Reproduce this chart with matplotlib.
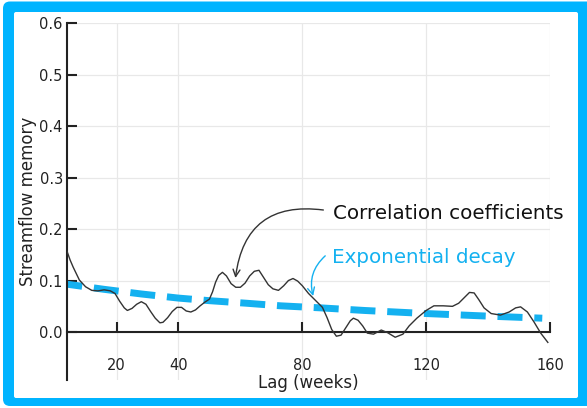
import matplotlib
matplotlib.use("Agg")
import matplotlib.pyplot as plt
from matplotlib.patches import FancyBboxPatch, Rectangle
from matplotlib.transforms import IdentityTransform

# Lagged autocorrelation of weekly streamflow
lag_weeks = [4, 5, 6, 8, 10, 12, 14, 16, 18, 19.5, 21, 22.5, 23.5, 25, 26.5, 28,
             29.5, 31, 32.5, 34, 35, 36.5, 38, 39.5, 41, 42.5, 44, 45.5, 47, 48.5,
             50, 51, 52, 53, 54.2, 55.5, 57, 58.5, 60, 61.5, 63, 64.5, 66, 67.5,
             69, 70.5, 72.3, 74, 75.5, 77, 78.5, 80, 82, 84.5, 86.5, 88, 89.5, 91,
             92.5, 94, 95.5, 96.5, 98, 99.5, 101, 103, 105.5, 107.5, 110, 112.5,
             114.5, 117, 120, 122.5, 125.5, 128.5, 130.5, 132.5, 134, 135.5, 137,
             138.7, 141, 144, 146.8, 148.9, 150.5, 152.7, 154.8, 157, 159.3]
correlation = [0.157, 0.140, 0.126, 0.101, 0.088, 0.081, 0.080, 0.082, 0.080, 0.075,
               0.060, 0.047, 0.042, 0.046, 0.054, 0.059, 0.054, 0.040, 0.027, 0.018,
               0.019, 0.028, 0.040, 0.048, 0.048, 0.041, 0.039, 0.043, 0.051, 0.058,
               0.064, 0.078, 0.097, 0.110, 0.116, 0.109, 0.094, 0.087, 0.087, 0.095,
               0.109, 0.118, 0.120, 0.106, 0.092, 0.084, 0.081, 0.090, 0.100, 0.104,
               0.099, 0.090, 0.075, 0.060, 0.048, 0.028, 0.005, -0.008, -0.006, 0.008,
               0.022, 0.027, 0.023, 0.012, -0.002, -0.004, 0.004, -0.001, -0.010,
               -0.004, 0.012, 0.027, 0.042, 0.051, 0.051, 0.050, 0.056, 0.068, 0.077,
               0.076, 0.063, 0.047, 0.036, 0.033, 0.039, 0.047, 0.049, 0.039, 0.020,
               -0.002, -0.020]

# Fitted exponential decay of memory
decay_lag = [4, 16, 28, 40, 50, 62, 73, 86, 100, 120, 140, 157.5]
decay_value = [0.093, 0.083, 0.074, 0.066, 0.061, 0.056, 0.051, 0.047, 0.042,
               0.036, 0.031, 0.027]

x_ticks = [20, 40, 80, 120, 160]
y_ticks = [0.0, 0.1, 0.2, 0.3, 0.4, 0.5, 0.6]
y_tick_labels = ["0.0", "0.1", "0.2", "0.3", "0.4", "0.5", "0.6"]

BLUE = "#14b1f0"
FRAME_BLUE = "#00b4ff"
INK = "#222222"
CURVE = "#333333"

W, H = 587, 408
fig = plt.figure(figsize=(W / 100, H / 100), dpi=100)
fig.patch.set_facecolor("white")

# Blue frame: filled rounded outer shape with a white panel on top
outer = FancyBboxPatch((3, 2), 600, H - 3.5,
                       boxstyle="round,pad=0,rounding_size=7",
                       transform=IdentityTransform(), facecolor=FRAME_BLUE,
                       edgecolor="none", zorder=-10)
inner = FancyBboxPatch((14, H - 398), 578 - 14, 398 - 12,
                       boxstyle="round,pad=0,rounding_size=2",
                       transform=IdentityTransform(), facecolor="white",
                       edgecolor="none", zorder=-9)
fig.add_artist(outer)
fig.add_artist(inner)

ax = fig.add_axes([67 / W, 1 - 380 / H, (550 - 67) / W, (380 - 23) / H])
ax.patch.set_alpha(0)
ax.set_xlim(4, 160)
ax.set_ylim(-0.093, 0.6)

ax.plot(decay_lag, decay_value, color=BLUE, lw=5.0, solid_capstyle="butt",
        dash_capstyle="butt", linestyle=(1.4, (3.6, 1.7)), zorder=2)
ax.plot(lag_weeks, correlation, color=CURVE, lw=1.0, zorder=3)

# Axes styling
for side in ("top", "right"):
    ax.spines[side].set_visible(False)
ax.spines["bottom"].set_position(("data", 0))
ax.spines["left"].set_linewidth(1.5)
ax.spines["bottom"].set_linewidth(1.5)
ax.spines["left"].set_color(INK)
ax.spines["bottom"].set_color(INK)

ax.set_xticks(x_ticks)
ax.set_xticklabels([str(t) for t in x_ticks])
ax.set_yticks(y_ticks)
ax.set_yticklabels(y_tick_labels)
ax.tick_params(axis="x", direction="in", length=7, width=1.5, pad=19,
               labelsize=10.5, colors=INK)
ax.tick_params(axis="y", direction="in", length=7, width=1.5, pad=3,
               labelsize=10.5, colors=INK)
ax.grid(True, color="#e8e8e8", lw=0.9, zorder=0)
ax.set_axisbelow(True)

ax.set_xlabel("Lag (weeks)", fontsize=12, color=INK, labelpad=0.5)
ax.set_ylabel("Streamflow memory", fontsize=12, color=INK, labelpad=2)

# Annotations
ax.text(89.8, 0.219, "Correlation coefficients", fontsize=14.3, color="#111111",
        ha="left", va="baseline")
ax.text(89.6, 0.1346, "Exponential decay", fontsize=14.3, color=BLUE,
        ha="left", va="baseline")
ax.annotate("", xy=(58.4, 0.105), xytext=(86.8, 0.237),
            arrowprops=dict(arrowstyle="->,head_length=0.5,head_width=0.25",
                            color=CURVE, lw=1.0,
                            connectionstyle="arc3,rad=0.5",
                            shrinkA=0, shrinkB=0))
ax.annotate("", xy=(83.5, 0.070), xytext=(87.4, 0.148),
            arrowprops=dict(arrowstyle="->,head_length=0.5,head_width=0.25",
                            color=BLUE, lw=1.0,
                            connectionstyle="arc3,rad=0.3",
                            shrinkA=0, shrinkB=0))

fig.savefig("out.png", dpi=100, facecolor="white")
